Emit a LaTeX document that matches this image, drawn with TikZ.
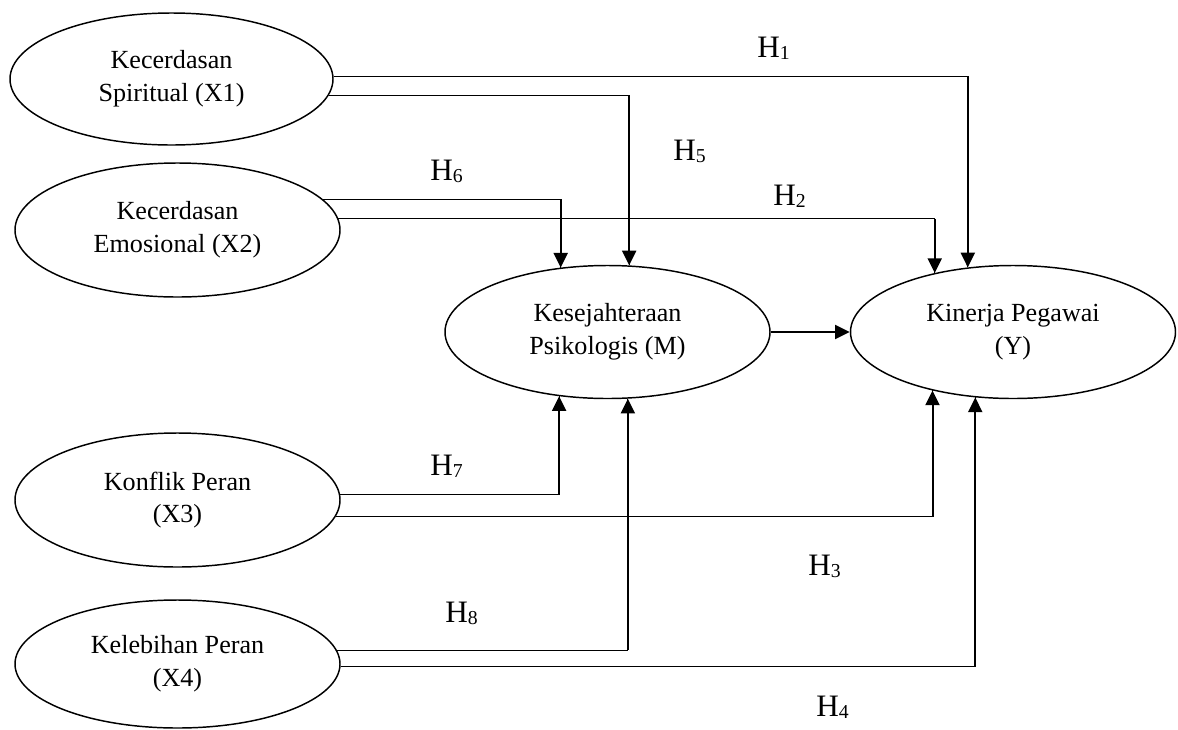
\documentclass[tikz,border=0pt]{standalone}
\usepackage{fontspec}
\setmainfont{Liberation Serif}
\usetikzlibrary{shapes.geometric,arrows.meta,calc}
\newcommand\Hyp[1]{H\raisebox{-2pt}{\fontsize{14.8}{14.8}\selectfont #1}}
\begin{document}
\begin{tikzpicture}[x=0.75pt,y=-0.75pt,
  var/.style={ellipse,draw,line width=1.1pt,inner sep=0pt,align=center,
    font=\fontsize{19.6}{24.5}\selectfont},
  hyp/.style={anchor=base west,inner sep=0pt,font=\fontsize{23.4}{23.4}\selectfont},
  hl/.style={line width=0.8pt},
  vl/.style={line width=1.5pt,-{Triangle[length=11pt,width=10.5pt]}}]
\useasboundingbox (0,0) rectangle (1178,729);
% variables
\node[var,minimum width=242.25pt,minimum height=99pt] (X1) at (171.5,79) {Kecerdasan\\Spiritual (X1)};
\node[var,minimum width=243.75pt,minimum height=100.5pt] (X2) at (177.5,230) {Kecerdasan\\Emosional (X2)};
\node[var,minimum width=243.75pt,minimum height=100.5pt] (X3) at (177.5,500) {Konflik Peran\\(X3)};
\node[var,minimum width=243.75pt,minimum height=96pt] (X4) at (177.5,664) {Kelebihan Peran\\(X4)};
\node[var,minimum width=243.75pt,minimum height=99.75pt] (M) at (607.5,332) {Kesejahteraan\\Psikologis (M)};
\node[var,minimum width=243.75pt,minimum height=99.75pt] (Y) at (1013,332) {Kinerja Pegawai\\(Y)};
% hypothesis labels
\node[hyp] (h1) at (757,57) {\Hyp{1}};
\node[hyp] (h5) at (673,160) {\Hyp{5}};
\node[hyp] (h6) at (430,180) {\Hyp{6}};
\node[hyp] (h2) at (773,205) {\Hyp{2}};
\node[hyp] (h7) at (430,475) {\Hyp{7}};
\node[hyp] (h8) at (445,622) {\Hyp{8}};
\node[hyp] (h3) at (808,575) {\Hyp{3}};
\node[hyp] (h4) at (816,716) {\Hyp{4}};
% X1 -> Y (H1)
\draw[hl] (X1.1.78) -| (Y.125.15);
\draw[vl] (X1.1.78 -| Y.125.15) -- (Y.125.15);
% X1 -> M (H5)
\draw[hl] (X1.-6.22) -| (M.72.74);
\draw[vl] (X1.-6.22 -| M.72.74) -- (M.72.74);
% X2 -> M (H6)
\draw[hl] (X2.12.14) -| (M.126.75);
\draw[vl] (X2.12.14 -| M.126.75) -- (M.126.75);
% X2 -> Y (H2)
\draw[hl] (X2.4.29) -| (Y.143.2);
\draw[vl] (X2.4.29 -| Y.143.2) -- (Y.143.2);
% X3 -> M (H7)
\draw[hl] (X3.2.48) -| (M.233.9);
\draw[vl] (X3.2.48 -| M.233.9) -- (M.233.9);
% X3 -> Y (H3)
\draw[hl] (X3.-6.56) -| (Y.216.33);
\draw[vl] (X3.-6.56 -| Y.216.33) -- (Y.216.33);
% X4 -> M (H8)
\draw[hl] (X4.5.04) -| (M.287.26);
\draw[vl] (X4.5.04 -| M.287.26) -- (M.287.26);
% X4 -> Y (H4)
\draw[hl] (X4.-1.41) -| (Y.240.26);
\draw[vl] (X4.-1.41 -| Y.240.26) -- (Y.240.26);
% M -> Y
\draw[vl] (M.east) -- (Y.west);
\end{tikzpicture}
\end{document}
